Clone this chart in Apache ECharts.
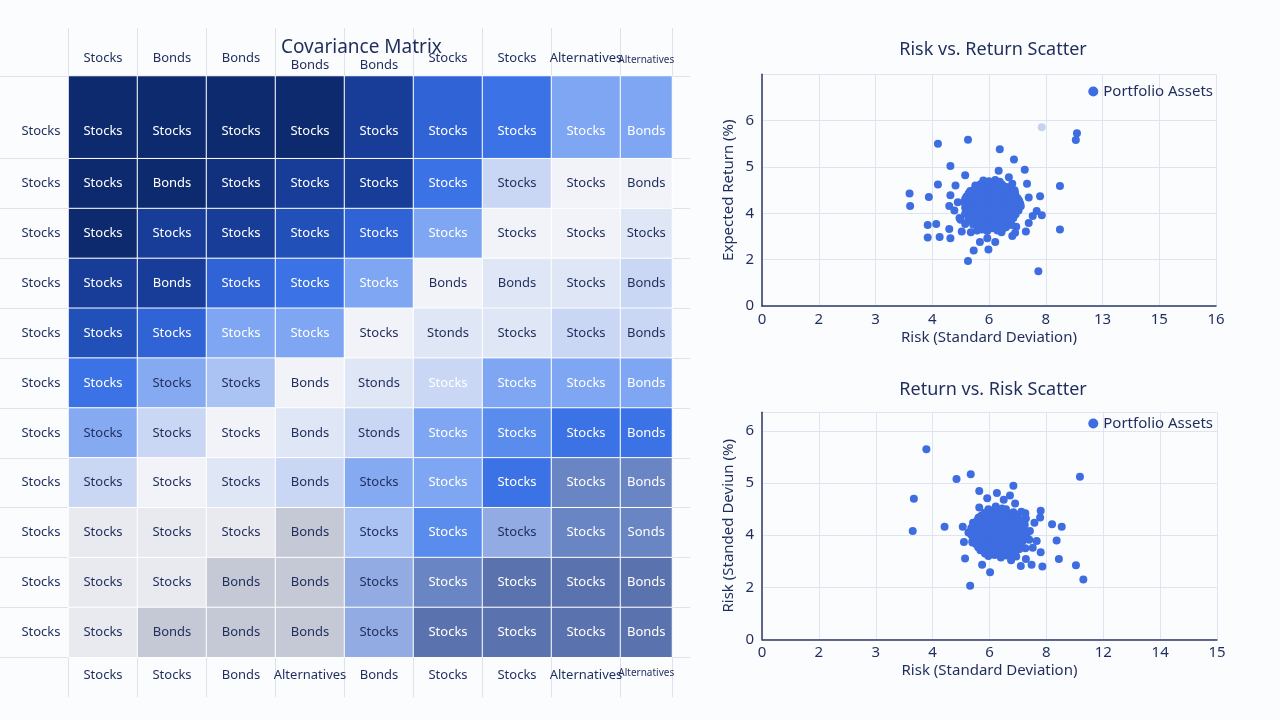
<!DOCTYPE html>
<html>
<head>
<meta charset="utf-8">
<script src="https://cdn.jsdelivr.net/npm/echarts@6/dist/echarts.min.js"></script>
<style>
html,body{margin:0;padding:0;background:#fbfcfe;}
#chart{width:1280px;height:720px;}
</style>
</head>
<body>
<div id="chart"></div>
<script>
// ---------- Covariance matrix data ----------
const topHeaders = ['Stocks','Bonds','Bonds','Bonds','Bonds','Stocks','Stocks','Alternatives','Alternatives'];
const bottomHeaders = ['Stocks','Stocks','Bonds','Alternatives','Bonds','Stocks','Stocks','Alternatives','Alternatives'];
const rowHeaders = ['Stocks','Stocks','Stocks','Stocks','Stocks','Stocks','Stocks','Stocks','Stocks','Stocks','Stocks'];

// covariance level of each cell (index into colour scale)
const cellLevels = [
  [0,0,0,0,2,4,5,7,7],
  [0,0,1,2,2,5,10,13,13],
  [0,2,2,3,4,7,13,13,12],
  [2,2,4,5,7,13,12,12,10],
  [3,4,7,7,13,12,12,10,10],
  [5,8,9,13,12,11,7,7,7],
  [8,10,13,12,10,7,6,5,5],
  [10,13,12,10,8,7,5,17,17],
  [14,14,14,15,9,6,16,17,17],
  [14,14,15,15,16,17,18,18,18],
  [14,15,15,15,16,18,18,18,18]
];
const cellTexts = [
  ['Stocks','Stocks','Stocks','Stocks','Stocks','Stocks','Stocks','Stocks','Bonds'],
  ['Stocks','Bonds','Stocks','Stocks','Stocks','Stocks','Stocks','Stocks','Bonds'],
  ['Stocks','Stocks','Stocks','Stocks','Stocks','Stocks','Stocks','Stocks','Stocks'],
  ['Stocks','Bonds','Stocks','Stocks','Stocks','Bonds','Bonds','Stocks','Bonds'],
  ['Stocks','Stocks','Stocks','Stocks','Stocks','Stonds','Stocks','Stocks','Bonds'],
  ['Stocks','Stocks','Stocks','Bonds','Stonds','Stocks','Stocks','Stocks','Bonds'],
  ['Stocks','Stocks','Stocks','Bonds','Stonds','Stocks','Stocks','Stocks','Bonds'],
  ['Stocks','Stocks','Stocks','Bonds','Stocks','Stocks','Stocks','Stocks','Bonds'],
  ['Stocks','Stocks','Stocks','Bonds','Stocks','Stocks','Stocks','Stocks','Sonds'],
  ['Stocks','Stocks','Bonds','Bonds','Stocks','Stocks','Stocks','Stocks','Bonds'],
  ['Stocks','Bonds','Bonds','Bonds','Stocks','Stocks','Stocks','Stocks','Bonds']
];

// ---------- Scatter data (positions in tick-step units of each axis) ----------
const topXTicks = ['0','2','3','4','6','8','13','15','16'];
const topYTicks = ['0','2','4','5','6',''];
const bottomXTicks = ['0','2','3','4','6','8','12','14','15'];
const bottomYTicks = ['0','2','4','5','6'];

const topAssets = [
  [5.55,3.73],[5.53,3.58],[3.10,3.50],[3.63,3.59],[4.19,3.38],[4.44,3.16],[3.32,3.02],
  [4.17,2.92],[4.63,2.94],[3.58,2.82],[5.25,2.59],[3.10,2.62],[2.60,2.43],[2.61,2.16],
  [2.94,2.35],[3.32,2.39],[3.41,2.60],[3.45,2.24],[3.30,2.16],[3.39,2.06],[4.90,2.37],
  [4.70,2.34],[4.67,2.64],[4.35,2.78],[4.41,2.64],[4.55,2.21],[4.84,2.05],[4.77,1.94],
  [4.93,1.96],[5.25,1.65],[4.70,1.79],[4.65,1.61],[4.48,1.71],[4.46,1.58],[4.41,1.51],
  [4.22,1.59],[4.11,1.38],[3.97,1.46],[3.84,1.38],[3.73,1.20],[3.99,1.22],[3.63,0.97],
  [4.87,0.75],[2.92,1.75],[3.07,1.77],[3.30,1.66],[2.92,1.48],[3.13,1.49],[3.32,1.46],
  [3.52,1.61],[3.68,1.59],[3.50,1.86],[3.58,1.77],[3.79,1.63],[3.48,1.90],[3.58,1.99],
  [3.90,2.71],[4.00,2.69],[4.11,2.72],[4.19,2.68],
  [3.76,2.60],[3.85,2.63],[3.95,2.59],[4.04,2.64],[4.13,2.61],[4.23,2.62],[4.31,2.57],
  [3.80,2.56],[3.89,2.55],[3.99,2.57],[4.08,2.56],[4.18,2.55],[4.27,2.57],[4.36,2.54],
  [3.67,2.48],[3.75,2.53],[3.84,2.47],[3.93,2.52],[4.02,2.46],[4.09,2.54],[4.20,2.48],[4.29,2.51],[4.36,2.46],[4.45,2.50],
  [3.64,2.43],[3.73,2.44],[3.82,2.42],[3.91,2.45],[4.00,2.43],[4.10,2.44],[4.19,2.43],[4.27,2.45],[4.37,2.42],[4.46,2.44],
  [3.60,2.36],[3.70,2.41],[3.79,2.35],[3.86,2.40],[3.97,2.34],[4.06,2.42],[4.15,2.36],[4.22,2.41],[4.33,2.37],[4.40,2.40],[4.49,2.34],
  [3.58,2.31],[3.68,2.33],[3.77,2.32],[3.87,2.33],[3.96,2.31],[4.05,2.34],[4.14,2.31],[4.24,2.33],[4.33,2.31],[4.42,2.33],[4.51,2.31],
  [3.56,2.24],[3.64,2.29],[3.73,2.23],[3.82,2.28],[3.93,2.22],[4.00,2.30],[4.09,2.26],[4.18,2.29],[4.27,2.23],[4.38,2.28],[4.45,2.22],[4.53,2.27],
  [3.61,2.20],[3.70,2.21],[3.80,2.19],[3.89,2.21],[3.98,2.20],[4.07,2.21],[4.16,2.19],[4.26,2.21],[4.34,2.20],[4.43,2.21],[4.52,2.19],
  [3.58,2.12],[3.67,2.17],[3.76,2.11],[3.83,2.16],[3.94,2.10],[4.03,2.18],[4.12,2.12],[4.21,2.17],[4.30,2.11],[4.37,2.16],[4.48,2.10],[4.56,2.15],
  [3.62,2.08],[3.72,2.07],[3.81,2.09],[3.90,2.07],[3.99,2.08],[4.08,2.07],[4.17,2.09],[4.26,2.08],[4.35,2.07],[4.44,2.08],[4.52,2.06],
  [3.59,2.00],[3.68,2.05],[3.77,1.99],[3.86,2.04],[3.95,1.98],[4.02,2.06],[4.13,2.00],[4.22,2.05],[4.29,1.99],[4.40,2.04],[4.47,1.98],
  [3.66,1.95],[3.76,1.96],[3.85,1.94],[3.94,1.96],[4.04,1.95],[4.13,1.96],[4.22,1.94],[4.31,1.96],[4.40,1.95],
  [3.64,1.88],[3.73,1.93],[3.80,1.87],[3.91,1.92],[3.98,1.86],[4.09,1.94],[4.16,1.88],[4.27,1.93],[4.34,1.87],[4.43,1.90],
  [3.70,1.84],[3.80,1.83],[3.89,1.85],[3.98,1.83],[4.08,1.84],[4.17,1.83],[4.27,1.85],[4.37,1.83],
  [3.72,1.76],[3.81,1.81],[3.88,1.75],[3.99,1.80],[4.06,1.74],[4.17,1.82],[4.24,1.76],[4.33,1.79],[4.40,1.75],
  [3.84,1.71],[3.94,1.70],[4.03,1.72],[4.12,1.70],[4.21,1.71],[4.30,1.70],
  [3.88,1.65],[3.97,1.62],[4.06,1.68],[4.15,1.63],[4.24,1.66]
];
const topFaded = [[4.93,3.86]];

const bottomAssets = [
  [2.89,3.65],[3.67,3.17],[3.42,3.08],[5.59,3.12],[4.42,2.95],[2.67,2.70],[2.65,2.08],
  [3.21,2.16],[3.82,2.85],[4.13,2.81],[3.96,2.71],[4.36,2.76],[4.25,2.68],[4.45,2.61],
  [4.90,2.47],[4.89,2.34],[5.10,2.21],[5.27,2.16],[5.18,1.90],[4.79,2.24],[4.71,2.08],
  [4.83,1.89],[4.76,1.76],[4.90,1.67],[4.64,1.54],[4.74,1.43],[4.93,1.40],[4.55,1.41],
  [5.22,1.54],[5.52,1.42],[5.65,1.15],[4.01,1.29],[3.66,1.03],[3.87,1.43],[3.57,1.55],
  [3.53,2.16],[3.55,1.87],[3.70,1.86],[3.63,2.05],[3.71,2.24],[3.82,2.53],[3.81,2.34],
  [4.63,2.42],[4.56,2.45],[4.64,2.32],[4.38,1.52],[4.47,1.59],[4.63,1.75],[4.70,1.91],
  [4.11,2.55],[4.22,2.51],
  [3.98,2.50],[4.09,2.49],[4.19,2.48],[4.29,2.50],
  [3.92,2.43],[4.04,2.46],[4.13,2.41],[4.25,2.45],[4.33,2.40],[4.42,2.44],
  [3.86,2.38],[3.96,2.39],[4.06,2.37],[4.16,2.38],[4.27,2.39],[4.37,2.37],[4.47,2.39],
  [3.80,2.31],[3.91,2.35],[3.99,2.29],[4.10,2.33],[4.21,2.28],[4.29,2.35],[4.41,2.30],[4.50,2.34],[4.57,2.28],
  [3.77,2.26],[3.88,2.27],[3.98,2.25],[4.08,2.27],[4.18,2.26],[4.28,2.27],[4.38,2.25],[4.48,2.27],[4.58,2.25],
  [3.74,2.19],[3.85,2.22],[3.93,2.17],[4.05,2.21],[4.14,2.16],[4.23,2.23],[4.35,2.18],[4.43,2.22],[4.54,2.17],[4.62,2.20],
  [3.68,2.14],[3.78,2.15],[3.88,2.13],[3.98,2.15],[4.08,2.14],[4.18,2.15],[4.28,2.13],[4.38,2.15],[4.48,2.14],[4.58,2.15],
  [3.72,2.07],[3.81,2.10],[3.93,2.05],[4.02,2.09],[4.12,2.04],[4.23,2.11],[4.31,2.06],[4.43,2.10],[4.51,2.05],[4.61,2.09],
  [3.68,2.01],[3.77,2.02],[3.87,2.00],[3.97,2.02],[4.07,2.01],[4.17,2.02],[4.27,2.00],[4.37,2.02],[4.47,2.01],[4.57,2.02],[4.65,2.00],
  [3.73,1.95],[3.84,1.98],[3.92,1.93],[4.03,1.97],[4.14,1.92],[4.22,1.99],[4.34,1.94],[4.42,1.98],[4.53,1.93],[4.60,1.97],
  [3.70,1.89],[3.80,1.90],[3.90,1.88],[4.00,1.90],[4.10,1.89],[4.20,1.90],[4.30,1.88],[4.40,1.90],[4.50,1.89],[4.59,1.90],
  [3.76,1.83],[3.87,1.86],[3.95,1.81],[4.07,1.85],[4.15,1.80],[4.26,1.87],[4.35,1.82],[4.47,1.86],[4.55,1.81],
  [3.80,1.77],[3.90,1.78],[4.00,1.76],[4.10,1.78],[4.20,1.77],[4.30,1.78],[4.40,1.76],[4.50,1.78],
  [3.84,1.71],[3.95,1.74],[4.03,1.69],[4.14,1.73],[4.25,1.68],[4.33,1.75],[4.44,1.70],[4.52,1.73],
  [3.92,1.65],[4.02,1.66],[4.13,1.64],[4.24,1.66],[4.35,1.65],[4.45,1.66],
  [3.98,1.60],[4.09,1.62],[4.20,1.57],[4.30,1.61],[4.40,1.58]
];

// ---------- Styling ----------
const levelColors = [
  '#0d2a6e','#11317f','#173d98','#2250b9','#2f63d6','#3b72e6','#5a8cee','#7ea6f2',
  '#86aaf2','#abc3f3','#c9d7f4','#c9d7f4','#dfe6f5','#f1f3f8','#e8eaf0','#c4c9d5',
  '#92abe2','#6a85c3','#5a72ad'
];
const whiteTextLevels = [0,1,2,3,4,5,6,7,11,17,18];
const NAVY = '#1f2d5c';
const FONT = 'Noto Sans';
const lineColor = '#dde2eb';
const dotColor = '#3d6de0';

function cellData(r0, r1, c0, c1) {
  const out = [];
  for (let r = r0; r <= r1; r++) {
    for (let c = c0; c <= c1; c++) {
      out.push({ value: [c - c0, r - r0, cellLevels[r][c]], name: cellTexts[r][c] });
    }
  }
  return out;
}

const cellLabel = (offsetY) => ({
  show: true,
  offset: [0, offsetY],
  formatter: p => (whiteTextLevels.indexOf(p.value[2]) >= 0 ? '{w|' : '{d|') + p.name + '}',
  rich: {
    w: { color: '#ffffff', fontSize: 13, fontFamily: FONT },
    d: { color: NAVY, fontSize: 13, fontFamily: FONT }
  }
});

const heatGrids = [
  { left: 68.5, top: 76, width: 552, height: 82.7 },
  { left: 620.5, top: 76, width: 51.5, height: 82.7 },
  { left: 68.5, top: 158.7, width: 552, height: 498.6 },
  { left: 620.5, top: 158.7, width: 51.5, height: 498.6 }
];
const lowHeaderCols = [3, 4];

function headerItems(labels, from, to, top) {
  const items = [];
  for (let i = from; i <= to; i++) {
    if (top) {
      items.push({ value: labels[i], textStyle: { padding: lowHeaderCols.indexOf(i) >= 0 ? [0,0,0,0] : [0,0,7,0] } });
    } else {
      items.push(labels[i]);
    }
  }
  return items;
}

const catX = (gridIndex, position, data, tickLen, fontSize) => ({
  type: 'category', gridIndex, position, data,
  axisLine: { show: false },
  axisTick: { show: true, length: tickLen, lineStyle: { color: lineColor } },
  axisLabel: { color: NAVY, fontSize: fontSize, fontFamily: FONT, margin: position === 'top' ? 4 : 11, interval: 0 },
  splitLine: { show: false }
});
const catY = (gridIndex, position, data, tickLen, showLabel, lowered) => ({
  type: 'category', gridIndex, position, data, inverse: true,
  axisLine: { show: false },
  axisTick: { show: true, length: tickLen, lineStyle: { color: lineColor } },
  axisLabel: lowered
    ? { show: showLabel, color: NAVY, fontSize: 13, fontFamily: FONT, margin: 8, verticalAlign: 'top', lineHeight: 28 }
    : { show: showLabel, color: NAVY, fontSize: 13, fontFamily: FONT, margin: 8 },
  splitLine: { show: false }
});

const tickFmt = ticks => v => (Math.abs(v - Math.round(v)) < 1e-6 ? (ticks[Math.round(v)] || '') : '');

const valX = (gridIndex, ticks) => ({
  type: 'value', gridIndex, min: 0, max: 8, interval: 1,
  name: 'Risk (Standard Deviation)', nameLocation: 'middle', nameGap: 24,
  nameTextStyle: { color: NAVY, fontSize: 15, fontFamily: FONT },
  axisLine: { show: true, lineStyle: { color: '#2d3a66', width: 1.5 } },
  axisTick: { show: false },
  axisLabel: { color: NAVY, fontSize: 15, fontFamily: FONT, margin: 6, formatter: tickFmt(ticks) },
  splitLine: { show: true, lineStyle: { color: '#dfe4f0' } }
});
const valY = (gridIndex, ticks, max, name) => ({
  type: 'value', gridIndex, min: 0, max: max, interval: 1,
  name: name, nameLocation: 'middle', nameGap: 26,
  nameTextStyle: { color: NAVY, fontSize: 15, fontFamily: FONT },
  axisLine: { show: true, lineStyle: { color: '#2d3a66', width: 1.5 } },
  axisTick: { show: false },
  axisLabel: { color: NAVY, fontSize: 15, fontFamily: FONT, margin: 8, formatter: tickFmt(ticks) },
  splitLine: { show: true, lineStyle: { color: '#dfe4f0' } }
});

const option = {
  backgroundColor: '#fbfcfe',
  animation: false,
  title: [
    { text: 'Covariance Matrix', left: 276, top: 33, textStyle: { color: NAVY, fontSize: 19, fontWeight: 'normal', fontFamily: FONT } },
    { text: 'Risk vs. Return Scatter', left: 988, top: 36, textAlign: 'center', textStyle: { color: NAVY, fontSize: 18, fontWeight: 'normal', fontFamily: FONT } },
    { text: 'Return vs. Risk Scatter', left: 988, top: 376, textAlign: 'center', textStyle: { color: NAVY, fontSize: 18, fontWeight: 'normal', fontFamily: FONT } }
  ],
  legend: [
    { data: ['Portfolio Assets'], right: 62, top: 79, icon: 'circle', itemWidth: 10, itemHeight: 10, itemGap: 6,
      textStyle: { color: NAVY, fontSize: 15, fontFamily: FONT } },
    { data: ['Portfolio Assets'], right: 62, top: 411, icon: 'circle', itemWidth: 10, itemHeight: 10, itemGap: 6,
      textStyle: { color: NAVY, fontSize: 15, fontFamily: FONT } }
  ],
  visualMap: {
    type: 'piecewise', show: false, dimension: 2, seriesIndex: [0,1,2,3],
    pieces: levelColors.map((c, i) => ({ value: i, color: c }))
  },
  grid: heatGrids.concat([
    { left: 762, top: 74.3, width: 454, height: 231.7 },
    { left: 762, top: 412.3, width: 455, height: 227 }
  ]),
  xAxis: [
    catX(0, 'top', headerItems(topHeaders, 0, 7, true), 48, 13),
    catX(1, 'top', headerItems(topHeaders, 8, 8, true), 48, 10),
    catX(2, 'bottom', headerItems(bottomHeaders, 0, 7, false), 40, 13),
    catX(3, 'bottom', headerItems(bottomHeaders, 8, 8, false), 40, 10),
    valX(4, topXTicks),
    valX(5, bottomXTicks)
  ],
  yAxis: [
    catY(0, 'left', rowHeaders.slice(0, 1), 68.5, true, true),
    catY(1, 'right', rowHeaders.slice(0, 1), 18, false, false),
    catY(2, 'left', rowHeaders.slice(1), 68.5, true, false),
    catY(3, 'right', rowHeaders.slice(1), 18, false, false),
    valY(4, topYTicks, 5, 'Expected Return (%)'),
    valY(5, bottomYTicks, 4.36, 'Risk (Standed Deviun (%)')
  ],
  series: [
    { type: 'heatmap', xAxisIndex: 0, yAxisIndex: 0, data: cellData(0, 0, 0, 7),
      itemStyle: { borderColor: '#ffffff', borderWidth: 1 }, label: cellLabel(14) },
    { type: 'heatmap', xAxisIndex: 1, yAxisIndex: 1, data: cellData(0, 0, 8, 8),
      itemStyle: { borderColor: '#ffffff', borderWidth: 1 }, label: cellLabel(14) },
    { type: 'heatmap', xAxisIndex: 2, yAxisIndex: 2, data: cellData(1, 10, 0, 7),
      itemStyle: { borderColor: '#ffffff', borderWidth: 1 }, label: cellLabel(0) },
    { type: 'heatmap', xAxisIndex: 3, yAxisIndex: 3, data: cellData(1, 10, 8, 8),
      itemStyle: { borderColor: '#ffffff', borderWidth: 1 }, label: cellLabel(0) },
    { name: 'Portfolio Assets', type: 'scatter', xAxisIndex: 4, yAxisIndex: 4, data: topAssets,
      symbolSize: 8, itemStyle: { color: dotColor, opacity: 1 } },
    { name: 'Portfolio Assets', type: 'scatter', xAxisIndex: 4, yAxisIndex: 4, data: topFaded,
      symbolSize: 8, itemStyle: { color: '#c7d2ee', opacity: 1 } },
    { name: 'Portfolio Assets', type: 'scatter', xAxisIndex: 5, yAxisIndex: 5, data: bottomAssets,
      symbolSize: 8, itemStyle: { color: dotColor, opacity: 1 } }
  ]
};

const chart = echarts.init(document.getElementById('chart'));
chart.setOption(option);
</script>
</body>
</html>
